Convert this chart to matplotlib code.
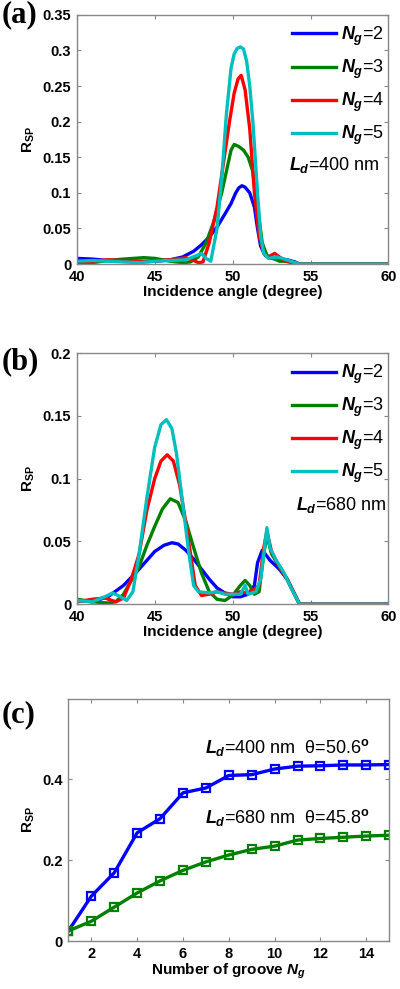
"""
Three-panel R_SP figure: angle spectra for L_d=400 nm and 680 nm, and R_SP vs groove number
"""
import numpy as np
import matplotlib.pyplot as plt

plt.rcParams["font.family"] = ["Liberation Sans", "DejaVu Sans"]
plt.rcParams["mathtext.fontset"] = "custom"
plt.rcParams["mathtext.it"] = "Liberation Sans:italic:bold"
plt.rcParams["mathtext.rm"] = "Liberation Sans:bold"
plt.rcParams["mathtext.bf"] = "Liberation Sans:bold"

colors = ["#0000ff", "#008000", "#ff0000", "#00bfbf"]
ng_labels = [r"$N_g$=2", r"$N_g$=3", r"$N_g$=4", r"$N_g$=5"]

# panel (a), L_d = 400 nm
a_x2 = [40, 41, 42, 43, 44, 45, 46, 46.8, 47.5, 48, 48.5, 49, 49.5, 49.9, 50.2, 50.4,
        50.6, 50.8, 51.1, 51.4, 51.6, 51.8, 52.1, 52.5, 53, 53.5, 54, 54.3, 60]
a_y2 = [0.008, 0.007, 0.005, 0.004, 0.003, 0.004, 0.006, 0.010, 0.018, 0.027, 0.038,
        0.052, 0.070, 0.085, 0.100, 0.107, 0.110, 0.108, 0.100, 0.080, 0.050, 0.025,
        0.012, 0.008, 0.007, 0.006, 0.003, 0.0, 0.0]
a_x3 = [40, 41, 42, 43, 44.3, 45, 46, 46.8, 47.3, 47.8, 48.3, 48.8, 49.3, 49.7, 49.9,
        50.1, 50.4, 50.7, 51, 51.3, 51.6, 51.9, 52.2, 52.6, 53, 53.5, 54, 54.3, 60]
a_y3 = [0.003, 0.002, 0.005, 0.007, 0.009, 0.008, 0.004, 0.002, 0.003, 0.010, 0.030,
        0.060, 0.100, 0.140, 0.160, 0.168, 0.165, 0.160, 0.150, 0.130, 0.080, 0.030,
        0.012, 0.008, 0.004, 0.004, 0.002, 0.0, 0.0]
a_x4 = [40, 41, 42, 43, 44, 45, 46, 47, 47.5, 47.8, 48.1, 48.5, 49, 49.4, 49.8, 50.1,
        50.35, 50.55, 50.8, 51.1, 51.4, 51.7, 52, 52.3, 52.7, 53, 53.4, 53.8, 54.3, 60]
a_y4 = [0.002, 0.004, 0.006, 0.005, 0.004, 0.004, 0.006, 0.009, 0.005, 0.002, 0.003,
        0.030, 0.080, 0.140, 0.200, 0.240, 0.260, 0.265, 0.245, 0.190, 0.100, 0.040,
        0.015, 0.010, 0.015, 0.010, 0.004, 0.002, 0.0, 0.0]
a_x5 = [40, 41, 42, 43, 44, 45, 46, 47, 47.7, 48, 48.3, 48.6, 49, 49.3, 49.6, 49.9,
        50.1, 50.3, 50.5, 50.7, 50.9, 51.1, 51.3, 51.6, 51.8, 52, 52.3, 52.8, 53.2,
        53.6, 54, 54.3, 60]
a_y5 = [0.004, 0.005, 0.004, 0.003, 0.002, 0.004, 0.005, 0.006, 0.012, 0.015, 0.008,
        0.004, 0.050, 0.120, 0.210, 0.275, 0.295, 0.303, 0.305, 0.302, 0.285, 0.250,
        0.200, 0.100, 0.040, 0.015, 0.008, 0.010, 0.008, 0.005, 0.002, 0.0, 0.0]

# panel (b), L_d = 680 nm
b_x2 = [40, 41, 42, 43, 44, 45, 45.6, 46.1, 46.5, 47, 47.5, 48, 48.5, 49, 49.5, 50,
        50.5, 51, 51.4, 51.6, 51.9, 52.1, 52.4, 53, 53.5, 53.9, 54.3, 60]
b_y2 = [0.003, 0.002, 0.006, 0.015, 0.028, 0.042, 0.047, 0.049, 0.048, 0.043, 0.036,
        0.028, 0.020, 0.013, 0.009, 0.006, 0.006, 0.008, 0.015, 0.033, 0.043, 0.040,
        0.035, 0.028, 0.020, 0.010, 0.0, 0.0]
b_x3 = [40, 41, 42, 42.5, 43, 44, 44.5, 45, 45.5, 46, 46.5, 47, 47.5, 48, 48.5, 49,
        49.5, 50, 50.5, 50.8, 51.1, 51.4, 51.7, 52, 52.2, 52.5, 53, 53.5, 53.9, 54.3, 60]
b_y3 = [0.004, 0.002, 0.001, 0.002, 0.008, 0.030, 0.047, 0.062, 0.076, 0.084, 0.081,
        0.066, 0.045, 0.025, 0.010, 0.004, 0.003, 0.007, 0.015, 0.019, 0.015, 0.008,
        0.010, 0.040, 0.055, 0.040, 0.030, 0.020, 0.010, 0.0, 0.0]
b_x4 = [40, 41, 41.8, 42.5, 43, 43.5, 44, 44.5, 45, 45.4, 45.8, 46.2, 46.6, 47, 47.3,
        47.6, 48, 48.5, 49, 49.5, 50, 50.5, 51, 51.4, 51.7, 52, 52.2, 52.5, 53, 53.5,
        53.9, 54.3, 60]
b_y4 = [0.002, 0.004, 0.005, 0.002, 0.005, 0.020, 0.040, 0.075, 0.100, 0.114, 0.119,
        0.114, 0.095, 0.065, 0.040, 0.015, 0.007, 0.008, 0.010, 0.009, 0.008, 0.010,
        0.009, 0.012, 0.015, 0.045, 0.058, 0.042, 0.030, 0.020, 0.010, 0.0, 0.0]
b_x5 = [40, 41, 41.8, 42.3, 42.8, 43.2, 43.6, 44, 44.5, 45, 45.4, 45.75, 46.1, 46.4,
        46.8, 47.2, 47.5, 47.8, 48.5, 49, 49.5, 50, 50.5, 50.8, 51, 51.5, 51.8, 52.05,
        52.2, 52.4, 52.8, 53.3, 53.8, 54.3, 60]
b_y5 = [0.003, 0.002, 0.006, 0.009, 0.006, 0.003, 0.010, 0.040, 0.085, 0.125, 0.143,
        0.147, 0.140, 0.120, 0.080, 0.040, 0.015, 0.010, 0.009, 0.010, 0.008, 0.008,
        0.008, 0.015, 0.008, 0.010, 0.020, 0.045, 0.061, 0.045, 0.035, 0.025, 0.012,
        0.0, 0.0]

# panel (c), R_SP vs number of grooves
ng = list(range(1, 16))
r400 = [0.025, 0.111, 0.169, 0.268, 0.303, 0.367, 0.379, 0.410, 0.412, 0.426, 0.433,
        0.434, 0.436, 0.436, 0.437]
r680 = [0.025, 0.049, 0.084, 0.119, 0.149, 0.175, 0.196, 0.213, 0.227, 0.235, 0.250,
        0.254, 0.257, 0.260, 0.262]

a_yticks = [0, 0.05, 0.1, 0.15, 0.2, 0.25, 0.3, 0.35]
a_yticklabels = ["0", "0.05", "0.1", "0.15", "0.2", "0.25", "0.3", "0.35"]
b_yticks = [0, 0.05, 0.1, 0.15, 0.2]
b_yticklabels = ["0", "0.05", "0.1", "0.15", "0.2"]
c_yticks = [0, 0.2, 0.4]
c_yticklabels = ["0", "0.2", "0.4"]
angle_ticks = [40, 45, 50, 55, 60]
ng_ticks = [2, 4, 6, 8, 10, 12, 14]


def style_axes(ax):
    for s in ax.spines.values():
        s.set_color("#888888")
        s.set_linewidth(1.0)
    ax.tick_params(direction="in", top=True, right=True, length=3, width=0.8,
                   color="#888888", labelsize=10.5, pad=4)
    for lab in ax.get_xticklabels() + ax.get_yticklabels():
        lab.set_fontweight("bold")


def spectrum_panel(ax, xs, ys, yticks, yticklabels, ld_text, ld_pos, leg_anchor):
    for x, y, c, lab in zip(xs, ys, colors, ng_labels):
        ax.plot(x, y, color=c, lw=2.4, label=lab)
    ax.set_xlim(40, 60)
    ax.set_ylim(yticks[0], yticks[-1])
    ax.set_xticks(angle_ticks)
    ax.set_yticks(yticks)
    ax.set_yticklabels(yticklabels)
    ax.set_xlabel("Incidence angle (degree)", fontsize=11, fontweight="bold", labelpad=1)
    ax.set_ylabel(r"R$_{\mathrm{SP}}$", fontsize=11, fontweight="bold", labelpad=4)
    ax.text(ld_pos[0], ld_pos[1], ld_text, fontsize=13, ha="left", va="center")
    ax.legend(frameon=False, fontsize=13, handlelength=2.4, handletextpad=0.3,
              labelspacing=0.55, loc="upper right", bbox_to_anchor=leg_anchor,
              borderaxespad=0)
    style_axes(ax)


fig = plt.figure(figsize=(4.0, 9.89), dpi=100)

ax_a = fig.add_axes([0.192, 0.733, 0.779, 0.252])
spectrum_panel(ax_a, [a_x2, a_x3, a_x4, a_x5], [a_y2, a_y3, a_y4, a_y5],
               a_yticks, a_yticklabels, r"$L_d$=400 nm", (53.6, 0.139), (1.01, 0.99))

ax_b = fig.add_axes([0.192, 0.389, 0.779, 0.254])
spectrum_panel(ax_b, [b_x2, b_x3, b_x4, b_x5], [b_y2, b_y3, b_y4, b_y5],
               b_yticks, b_yticklabels, r"$L_d$=680 nm", (54.1, 0.079), (1.01, 0.99))

ax_c = fig.add_axes([0.171, 0.0485, 0.802, 0.245])
ax_c.plot(ng, r400, color=colors[0], lw=2.4, marker="s", ms=6, mfc="none", mew=1.6)
ax_c.plot(ng, r680, color=colors[1], lw=2.4, marker="s", ms=6, mfc="none", mew=1.6)
ax_c.set_xlim(1, 15)
ax_c.set_ylim(0, 0.6)
ax_c.set_xticks(ng_ticks)
ax_c.set_yticks(c_yticks)
ax_c.set_yticklabels(c_yticklabels)
ax_c.set_xlabel(r"Number of groove $N_g$", fontsize=11, fontweight="bold", labelpad=1)
ax_c.set_ylabel(r"R$_{\mathrm{SP}}$", fontsize=11, fontweight="bold", labelpad=4)
ax_c.text(6.95, 0.479, r"$L_d$=400 nm  θ=50.6$^{\mathrm{o}}$", fontsize=13,
          ha="left", va="center")
ax_c.text(6.95, 0.306, r"$L_d$=680 nm  θ=45.8$^{\mathrm{o}}$", fontsize=13,
          ha="left", va="center")
style_axes(ax_c)

for lab, y in (("(a)", 0.985), ("(b)", 0.634), ("(c)", 0.277)):
    fig.text(0.005, y, lab, family="Liberation Serif", fontweight="bold", fontsize=22,
             ha="left", va="center")

fig.savefig("out.png", dpi=100)
